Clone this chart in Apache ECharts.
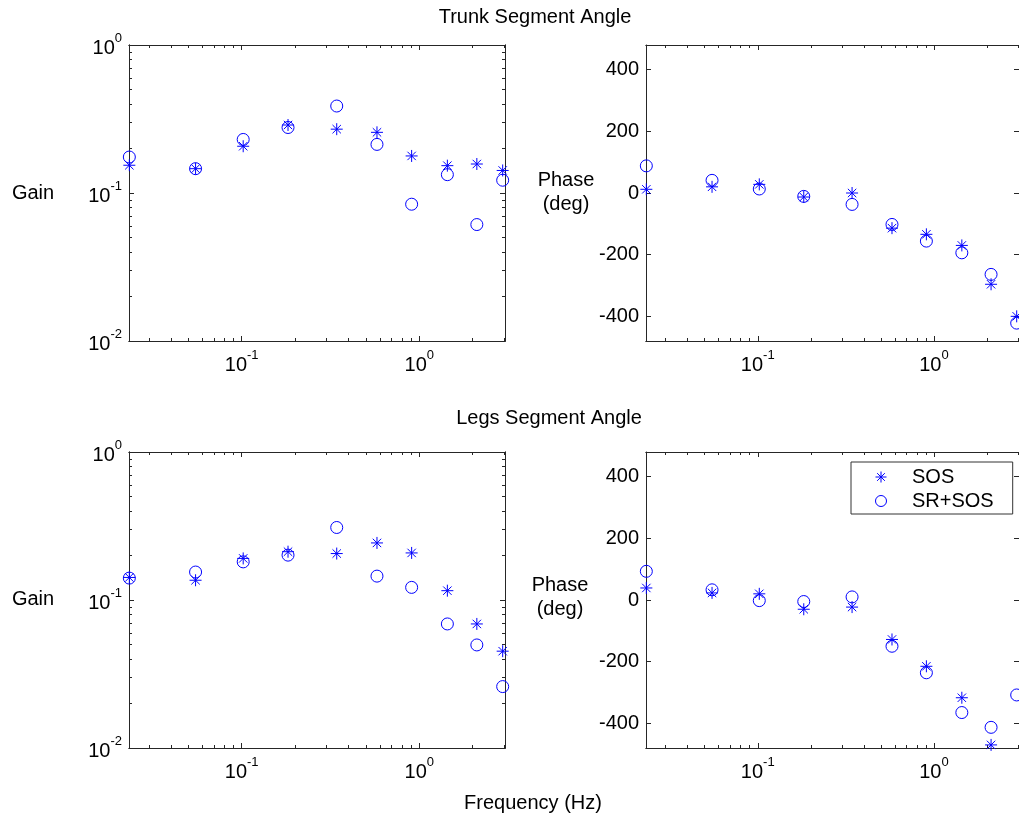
<!DOCTYPE html>
<html><head><meta charset="utf-8">
<script src="https://cdn.jsdelivr.net/npm/echarts@6/dist/echarts.min.js"></script>
<style>html,body{margin:0;padding:0;background:#fff}#c{width:1019px;height:819px}</style>
</head><body><div id="c"></div>
<script>
// ---- data ----
const freq = [0.0233, 0.055, 0.102, 0.1824, 0.343, 0.578, 0.906, 1.44, 2.11, 2.95];
const trunkGainSOS = [0.154, 0.146, 0.207, 0.288, 0.270, 0.257, 0.178, 0.153, 0.157, 0.142];
const trunkGainSR  = [0.175, 0.146, 0.230, 0.277, 0.387, 0.213, 0.084, 0.133, 0.0612, 0.122];
const trunkPhaseSOS = [12, 20, 28, -13, 0, -114, -134, -170, -296, -400];
const trunkPhaseSR  = [88, 41, 13, -11, -37, -102, -156, -194, -264, -422];
const legsGainSOS = [0.142, 0.136, 0.191, 0.212, 0.206, 0.243, 0.208, 0.1156, 0.0689, 0.0451];
const legsGainSR  = [0.1406, 0.1545, 0.181, 0.201, 0.309, 0.145, 0.1217, 0.0689, 0.0497, 0.0260];
const legsPhaseSOS = [39, 23, 20, -30, -23, -128, -215, -317, -470, null];
const legsPhaseSR  = [93, 33, -2, -5, 10, -150, -236, -365, -413, -308];
const seriesNames = ['SOS', 'SR+SOS'];
const xMajorTicks = [0.1, 1];
const xMinorTicks = [0.03, 0.04, 0.05, 0.06, 0.07, 0.08, 0.09, 0.2, 0.3, 0.4, 0.5, 0.6, 0.7, 0.8, 0.9, 2, 3];
const gainMajorTicks = [0.01, 0.1, 1];
const gainMinorTicks = [0.02, 0.03, 0.04, 0.05, 0.06, 0.07, 0.08, 0.09, 0.2, 0.3, 0.4, 0.5, 0.6, 0.7, 0.8, 0.9];
const phaseTicks = [-400, -200, 0, 200, 400];
const titles = ['Trunk Segment Angle', 'Legs Segment Angle'];
const xTitle = 'Frequency (Hz)';
const gainTitle = 'Gain';
const phaseTitle = 'Phase\n(deg)';

// ---- styling / layout ----
const XMIN = 0.0232, XMAX = 3.04;
const GMIN = 0.01, GMAX = 1;
const PMIN = -480, PMAX = 480;
const FONT = 'Liberation Sans';
const AX = '#262626';
const BLUE = '#0000ff';
const STAR = 'path://M0,5L10,5M5,0L5,10M1.5,1.5L8.5,8.5M8.5,1.5L1.5,8.5';

function logLabel(v) { const e = Math.round(Math.log10(v)); return '{b|10}{s|' + e + '}'; }
const rich = {
  b: {fontSize: 20, fontFamily: FONT, color: '#000', padding: [6, 0, 0, 0]},
  s: {fontSize: 13, fontFamily: FONT, color: '#000', verticalAlign: 'top'}
};

const grids = [
  {left: 129, top: 45, width: 376, height: 296},
  {left: 646, top: 45, width: 377, height: 296},
  {left: 129, top: 452, width: 376, height: 296},
  {left: 646, top: 452, width: 377, height: 296}
];
const xAxes = [], yAxes = [];
function axisBase(len, ticks) {
  return {
    axisLine: {show: true, onZero: false, lineStyle: {color: AX, width: 1}},
    axisTick: {show: true, inside: true, length: len, customValues: ticks, lineStyle: {color: AX, width: 1}},
    splitLine: {show: false}, minorTick: {show: false}, minorSplitLine: {show: false}
  };
}
function addX(g, pos, ticks, len, labels) {
  const a = Object.assign({type: 'log', logBase: 10, gridIndex: g, position: pos, min: XMIN, max: XMAX}, axisBase(len, ticks));
  a.axisLabel = labels ? {show: true, customValues: labels, formatter: logLabel, rich: rich, margin: 8} : {show: false};
  xAxes.push(a); return xAxes.length - 1;
}
function addYGain(g, pos, ticks, len, labels) {
  const a = Object.assign({type: 'log', logBase: 10, gridIndex: g, position: pos, min: GMIN, max: GMAX}, axisBase(len, ticks));
  a.axisLabel = labels ? {show: true, customValues: labels, formatter: logLabel, rich: rich, margin: 7} : {show: false};
  yAxes.push(a); return yAxes.length - 1;
}
function addYPhase(g, pos, ticks, len, labels) {
  const a = Object.assign({type: 'value', gridIndex: g, position: pos, min: PMIN, max: PMAX}, axisBase(len, ticks));
  a.axisLabel = labels ? {show: true, customValues: labels, margin: 7, fontSize: 20, fontFamily: FONT, color: '#000'} : {show: false};
  yAxes.push(a); return yAxes.length - 1;
}

const series = [];
function scatter(name, xi, yi, xs, ys) {
  const isStar = name === seriesNames[0];
  series.push({
    type: 'scatter', name: name, xAxisIndex: xi, yAxisIndex: yi, clip: false,
    symbol: isStar ? STAR : 'circle', symbolSize: 12,
    itemStyle: {color: 'transparent', borderColor: BLUE, borderWidth: 1, opacity: 1},
    emphasis: {disabled: true},
    data: xs.map((f, i) => [f, ys[i]]).filter(d => d[1] !== null)
  });
}

const panels = [
  {kind: 'gain', sos: trunkGainSOS, sr: trunkGainSR},
  {kind: 'phase', sos: trunkPhaseSOS, sr: trunkPhaseSR},
  {kind: 'gain', sos: legsGainSOS, sr: legsGainSR},
  {kind: 'phase', sos: legsPhaseSOS, sr: legsPhaseSR}
];
panels.forEach((p, g) => {
  const xi = addX(g, 'bottom', xMinorTicks, 3, xMajorTicks);
  addX(g, 'bottom', xMajorTicks, 5, null);
  addX(g, 'top', xMinorTicks, 3, null);
  addX(g, 'top', xMajorTicks, 5, null);
  let yi;
  if (p.kind === 'gain') {
    yi = addYGain(g, 'left', gainMinorTicks, 3, gainMajorTicks);
    addYGain(g, 'left', gainMajorTicks, 5, null);
    addYGain(g, 'right', gainMinorTicks, 3, null);
    addYGain(g, 'right', gainMajorTicks, 5, null);
  } else {
    yi = addYPhase(g, 'left', phaseTicks, 5, phaseTicks);
    addYPhase(g, 'right', phaseTicks, 5, null);
  }
  scatter(seriesNames[0], xi, yi, freq, p.sos);
  scatter(seriesNames[1], xi, yi, freq, p.sr);
});

function txt(text, x, y) {
  return {type: 'text', x: x, y: y, silent: true, z: 10,
    style: {text: text, font: '20px "' + FONT + '"', fill: '#000', align: 'center', verticalAlign: 'middle', lineHeight: 24}};
}

const option = {
  animation: false,
  backgroundColor: '#fff',
  grid: grids,
  xAxis: xAxes,
  yAxis: yAxes,
  series: series,
  legend: {
    left: 851, top: 462, orient: 'vertical', padding: [5, 19, 3, 24], itemGap: 4,
    itemWidth: 52, itemHeight: 11, backgroundColor: '#fff', borderColor: '#333', borderWidth: 1, borderRadius: 0,
    textStyle: {fontFamily: FONT, fontSize: 20, color: '#000'},
    itemStyle: {color: 'transparent', borderColor: BLUE, borderWidth: 1},
    selectedMode: false,
    data: [{name: seriesNames[0], icon: STAR}, {name: seriesNames[1], icon: 'circle'}]
  },
  graphic: [
    txt(titles[0], 535, 17),
    txt(titles[1], 549, 418),
    txt(xTitle, 533, 803),
    txt(gainTitle, 33, 193),
    txt(gainTitle, 33, 599),
    txt(phaseTitle, 566, 192),
    txt(phaseTitle, 560, 597)
  ]
};
const chart = echarts.init(document.getElementById('c'), null, {renderer: 'canvas'});
chart.setOption(option);
</script>
</body></html>
